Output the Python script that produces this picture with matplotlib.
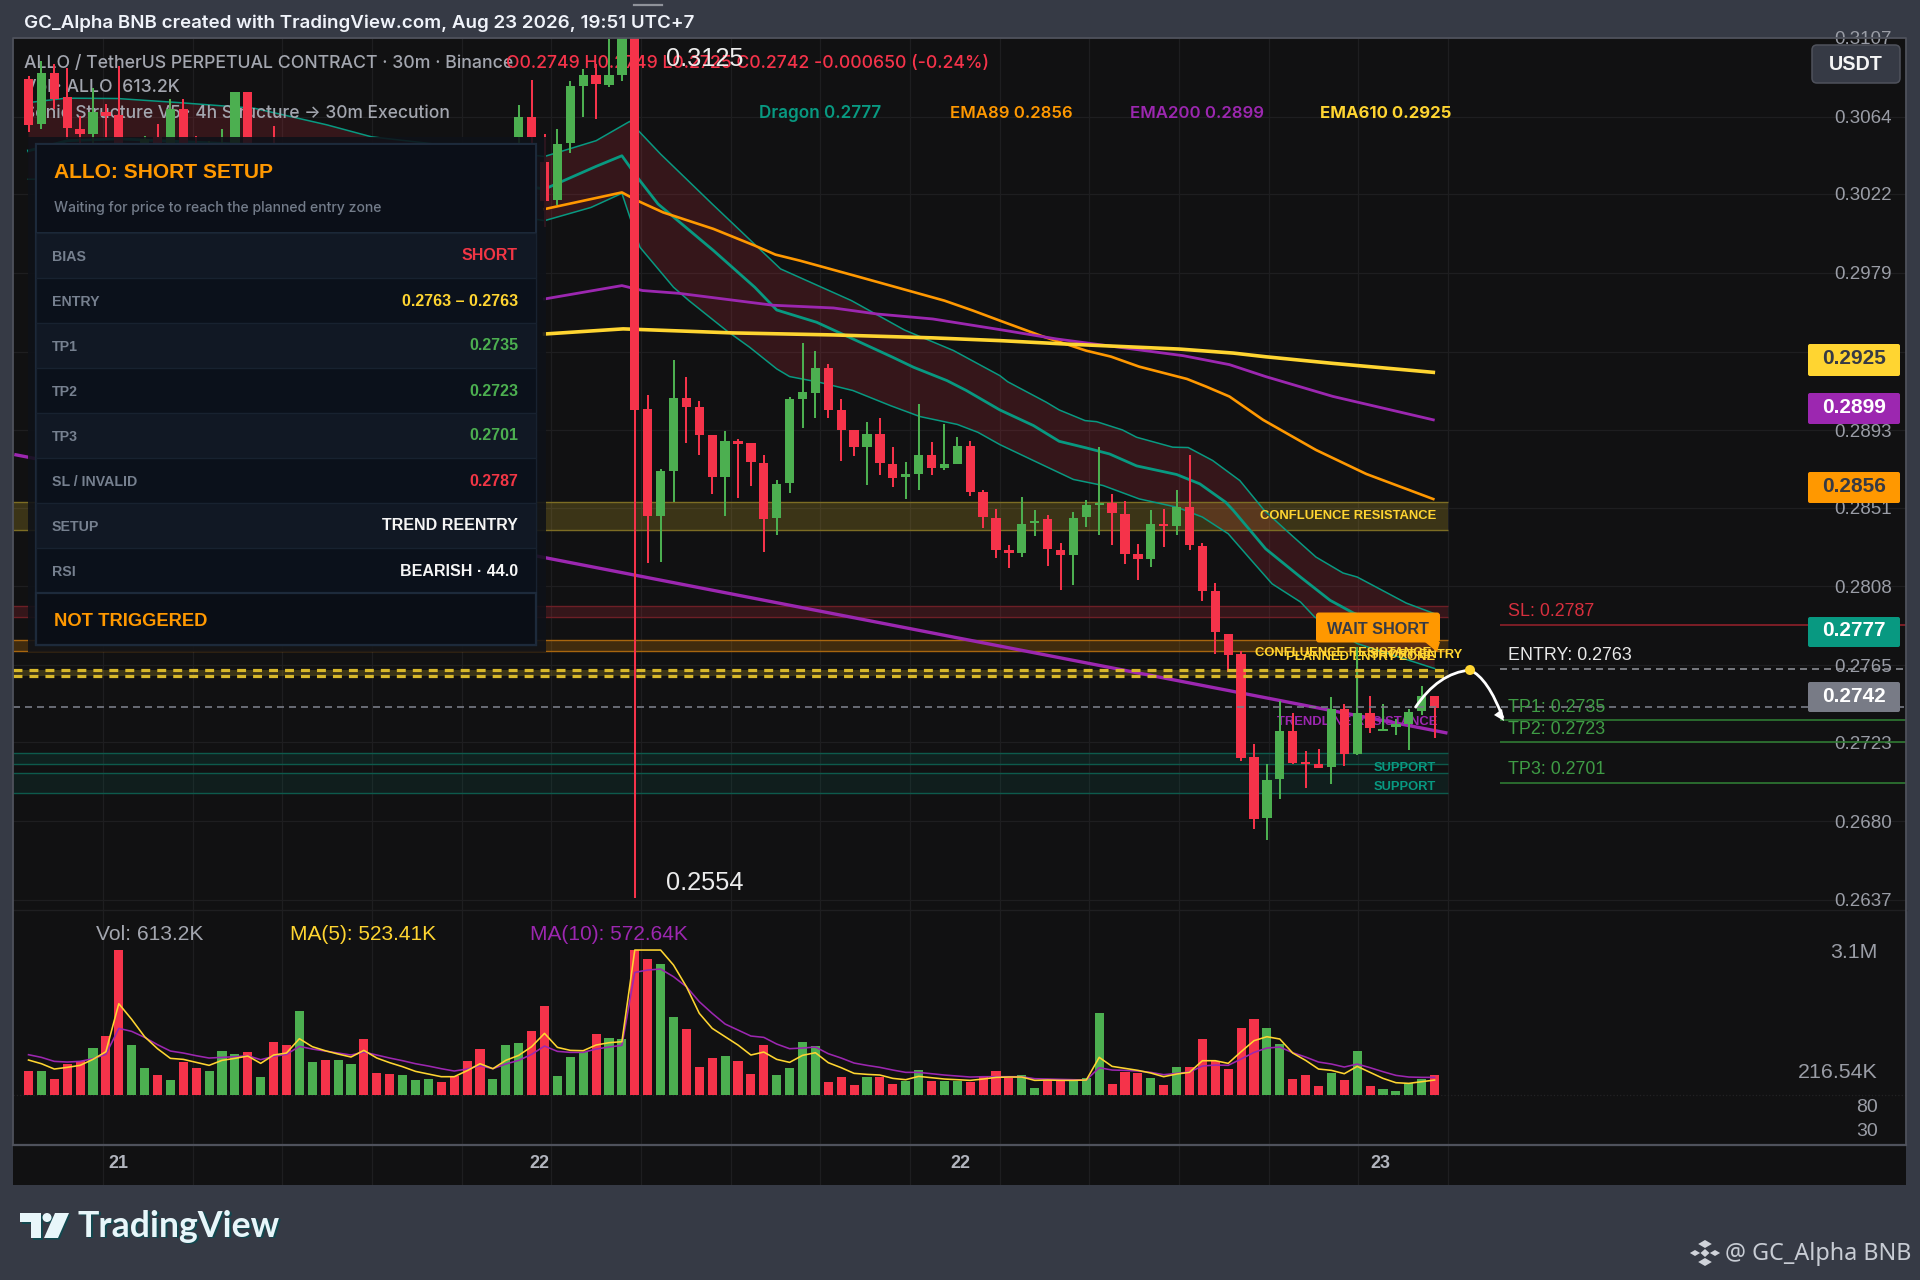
import numpy as np
import matplotlib
matplotlib.use('Agg')
import matplotlib.pyplot as plt
from matplotlib.patches import Rectangle, FancyBboxPatch, Polygon, Circle, PathPatch
from matplotlib.path import Path

W, H = 1920, 1280

# ---------------- data ----------------
candle_dirs = ("RGRRRGRRGG" "RGRRGGGRGR" "RGGRGGRRRG" "GGRRRRGGGR" "RGGGRGGRRG"
               "GRRRGRRRGG" "GGRRRGRRGG" "RGGRRRRGGR" "RGGGRRRGRG" "RRRRRRGGRR" "RGRGRGGGGR")
# high, top of body, bottom of body, low
candle_rows = [
 (.30864,.30845,.30597,.30555),(.30945,.30878,.30600,.30573),(.30927,.30878,.30736,.30682),(.30909,.30746,.30577,.30519),
 (.30646,.30573,.30546,.30491),(.30796,.30664,.30546,.30491),(.30709,.30664,.30646,.30524),(.30918,.30651,.30491,.30464),
 (.30490,.30480,.30350,.30300),(.30537,.30519,.30400,.30350),(.30600,.30531,.30480,.30420),(.30736,.30682,.30500,.30440),
 (.30736,.30682,.30500,.30450),(.30537,.30500,.30420,.30380),(.30510,.30490,.30400,.30360),(.30573,.30500,.30400,.30380),
 (.30773,.30773,.30480,.30440),(.30778,.30773,.30480,.30440),(.30480,.30470,.30400,.30370),(.30591,.30490,.30400,.30350),
 (.30480,.30450,.30380,.30340),(.30500,.30480,.30370,.30340),(.30490,.30470,.30410,.30380),(.30480,.30470,.30400,.30370),
 (.30470,.30450,.30390,.30360),(.30470,.30440,.30400,.30370),(.30480,.30440,.30350,.30310),(.30390,.30360,.30320,.30290),
 (.30360,.30330,.30290,.30260),(.30350,.30330,.30290,.30270),(.30360,.30340,.30320,.30300),(.30370,.30350,.30330,.30310),
 (.30360,.30350,.30330,.30300),(.30350,.30330,.30300,.30280),(.30340,.30300,.30260,.30230),(.30290,.30270,.30200,.30170),
 (.30260,.30240,.30200,.30190),(.30440,.30400,.30240,.30220),(.30706,.30637,.30528,.30470),(.30840,.30637,.30528,.30470),
 (.30546,.30395,.30183,.30041),(.30573,.30491,.30186,.30161),(.30836,.30809,.30495,.30441),(.30900,.30869,.30809,.30637),
 (.30927,.30869,.30818,.30631),(.31063,.30869,.30813,.30804),(.3112,.3110,.30869,.30836),(.3125,.3112,.29043,.2638),
 (.29124,.29046,.28462,.28208),(.28721,.28707,.28462,.28215),(.29315,.29106,.28709,.28540),(.29222,.29106,.29059,.28861),
 (.29092,.29057,.28903,.28796),(.28906,.28903,.28676,.28582),(.28925,.28874,.28676,.28463),(.28886,.28874,.28857,.28560),
 (.28861,.28861,.28756,.28629),(.28797,.28754,.28447,.28267),(.28658,.28638,.28453,.28362),(.29113,.29101,.28641,.28591),
 (.29406,.29142,.29101,.28945),(.29366,.29269,.29135,.28999),(.29293,.29269,.29044,.28999),(.29103,.29039,.28935,.28763),
 (.28935,.28934,.28839,.28790),(.28975,.28912,.28839,.28634),(.28999,.28912,.28752,.28687),(.28841,.28749,.28670,.28623),
 (.28758,.28694,.28674,.28558),(.29072,.28799,.28694,.28603),(.28865,.28799,.28723,.28685),(.28966,.28749,.28723,.28712),
 (.28892,.28847,.28749,.28749),(.28870,.28843,.28594,.28571),(.28607,.28594,.28456,.28400),(.28501,.28454,.28277,.28235),
 (.28303,.28281,.28261,.28178),(.28566,.28421,.28261,.28240),(.28499,.28439,.28425,.28352),(.28467,.28447,.28285,.28193),
 (.28316,.28276,.28249,.28058),(.28485,.28454,.28249,.28085),(.28552,.28525,.28456,.28403),(.28839,.28534,.28521,.28358),
 (.28581,.28536,.28478,.28307),(.28547,.28476,.28254,.28200),(.28312,.28254,.28227,.28113),(.28497,.28421,.28227,.28185),
 (.28503,.28421,.28407,.28294),(.28606,.28514,.28409,.28360),(.28799,.28514,.28303,.28276),(.28318,.28301,.28053,.28000),
 (.28100,.28056,.27831,.27713),(.27820,.27820,.27706,.27613),(.27728,.27710,.27142,.27127),(.27223,.27149,.26813,.26758),
 (.27114,.27025,.26817,.26695),(.27456,.27292,.27029,.26922),(.27392,.27290,.27118,.27109),(.27180,.27123,.27111,.26982),
 (.27191,.27109,.27092,.27087),(.27479,.27414,.27096,.27002),(.27437,.27412,.27165,.27103),(.27750,.27387,.27165,.27158),
 (.27485,.27387,.27310,.27281),(.27441,.27305,.27292,.27290),(.27359,.27328,.27314,.27267),(.27414,.27394,.27328,.27187),
 (.27535,.27481,.27399,.27377),(.27485,.27485,.27417,.27254),
]
volumes_k = [744,733,475,950,1033,1446,1828,4483,1529,816,609,465,1012,816,744,1343,1250,1333,547,1622,1529,2583,1012,1085,
 1064,950,1735,671,640,609,444,475,393,589,1043,1415,496,1529,1591,1963,2758,578,1178,1322,1880,1756,1725,4483,4204,4049,
 2397,2045,847,1136,1209,1043,640,1529,620,816,1642,1508,382,537,310,558,537,331,413,764,434,413,424,393,589,733,506,620,
 196,465,465,434,506,2531,341,713,682,527,310,868,857,1725,1054,806,2066,2345,2056,1570,486,599,279,682,465,1343,279,165,
 103,372,486,613]
ma5_read = [104,93,77,82,88,106,129,273,226,174,138,109,106,97,88,103,109,116,94,119,125,168,144,132,122,113,133,110,96,84,
 70,62,54,54,72,93,78,103,118,144,184,142,133,132,149,156,159,434,434,434,389,324,244,199,
 174,149,119,128,106,97,118,126,96,81,64,61,59,49,45,55,51,47,45,43,47,52,53,53,43,44,43,43,44,112,85,79,73,65,54,62,67,
 102,102,94,129,162,174,167,125,103,77,73,63,85,67,49,36,34,39,44]
ma10_read = [120,112,100,98,100,108,121,199,190,172,150,131,125,117,110,112,114,117,105,115,121,145,137,131,125,119,128,119,
 110,102,93,86,78,71,77,87,78,92,103,121,146,130,127,127,137,143,148,367,374,377,354,324,279,244,
 212,194,176,172,152,138,140,143,123,110,95,88,82,74,67,67,63,59,56,53,54,54,54,54,48,47,46,45,44,81,74,73,71,67,60,64,68,
 86,89,88,107,127,140,143,126,113,98,92,83,92,81,69,58,53,52,52]
READ_UNIT_K = 10.33

dragon_hi_x = [0,2.9,6.9,11.6,17.5,23.1,26.6,40,44,46.6,49,53,58.3,63.8,67.9,71.7,75.3,75.9,78.9,79.9,81.9,82.8,84.8,85.9,88.7,89.9,91.8,93.9,95.8,97.5,99.8,101.9,103,106.8,109]
dragon_hi_y = [.30718,.30742,.30740,.30718,.30687,.30597,.30531,.30424,.30510,.30615,.30437,.30165,.29811,.29638,.29478,.29366,.29229,.29196,.29084,.29042,.28984,.28978,.28933,.28893,.28839,.28837,.28766,.28657,.28494,.28385,.28240,.28153,.28131,.27989,.27931]
dragon_mid_x = [0,3,7,20,40,44,46,47.2,48.8,53.1,56.3,58,61.1,67,68.6,71.2,72.7,75.3,77.9,79.9,82,83.8,85.9,89,90.8,92.8,93.4,95.9,98.6,100.9,102.7,109]
dragon_mid_y = [.30455,.3051,.3052,.3048,.30246,.30370,.30428,.30310,.30165,.29911,.29711,.29587,.29520,.29329,.29275,.29202,.29148,.29042,.28957,.28871,.28835,.28802,.28737,.28690,.28639,.28539,.28494,.28285,.28131,.28004,.27935,.2777]
dragon_lo_x = [0,20,40,43.6,46,47.4,50,51.2,54.1,55.9,58,59,61.3,63.9,66.8,69.1,72,73.6,75.3,77.9,81,83.3,86.1,89,91,93,94.8,96.4,98.6,99.7,103,109]
dragon_lo_y = [.3030,.3030,.30074,.30146,.30223,.29929,.29711,.29638,.29475,.29384,.29266,.29224,.29193,.29148,.29066,.29006,.28963,.28920,.28853,.28766,.28663,.28630,.28557,.28512,.28458,.28367,.28222,.28094,.27995,.27913,.27768,.27632]
ema89_x = [40,46,47.2,49.2,53.1,56.3,57.9,59.8,64.2,71,73.2,75.3,78.7,82,83.9,86.1,89.8,91.3,93.1,95.7,99.8,103.7,108.9]
ema89_y = [.30137,.30228,.30183,.30119,.30029,.29938,.29889,.29856,.29771,.29638,.29584,.29529,.29441,.29365,.29333,.29278,.29211,.29169,.29115,.28988,.28824,.28693,.28556]
ema200_x = [40,46,47.6,50.4,57.7,62.4,65.8,70.1,75.3,79.7,85.6,89.5,93.1,95.9,101.1,108.9]
ema200_y = [.29647,.29720,.29693,.29678,.29613,.29598,.29565,.29538,.29480,.29429,.29374,.29338,.29289,.29224,.29116,.28988]
ema610_x = [40,46.1,54.6,62.4,70.1,75.3,80.5,89.2,93.4,95.9,101.1,108.9]
ema610_y = [.29456,.29484,.29462,.29451,.29435,.29420,.29401,.29374,.29352,.29332,.29296,.29247]
trend_x = [-1.1,110]
trend_y = [.28799,.27280]

zone_left, zone_right = -1.2, 110
zones = [  # low, high, fill, alpha, edge
 (.28389,.28541,'#ffd531',.18,'#7d6d24'),
 (.27913,.27973,'#f23645',.16,'#6d1f26'),
 (.27726,.27786,'#ff9800',.20,'#a8660f'),
 (.27109,.27169,'#089981',.12,'#0d5a4c'),
 (.26951,.27065,'#089981',.10,'#0d5a4c'),
]
entry_zone = (.27590,.27626)
price_ticks = [.3107,.3064,.3022,.2979,.2936,.2893,.2851,.2808,.2765,.2723,.2680,.2637]
price_tick_labels = ['0.3107','0.3064','0.3022','0.2979','','0.2893','0.2851','0.2808','0.2765','0.2723','0.2680','0.2637']
grid_bars = [5.78,12.73,19.68,26.63,33.58,40.53,47.48,54.43,61.38,68.33,75.28,82.23,89.18,96.13,103.08,110.03]
date_pos = [7.0,39.6,72.2,104.8]
date_labels = ['21','22','22','23']
sl_level, entry_level, tp1, tp2, tp3, last_close = .2787,.2763,.2735,.2723,.2701,.2742
plan_rows = [('BIAS','SHORT','#f23645'),('ENTRY','0.2763 – 0.2763','#ffd531'),('TP1','0.2735','#4caf50'),
             ('TP2','0.2723','#4caf50'),('TP3','0.2701','#4caf50'),('SL / INVALID','0.2787','#f23645'),
             ('SETUP','TREND REENTRY','#f5f5f5'),('RSI','BEARISH · 44.0','#f5f5f5')]
price_tags = [('0.2925',344,376,'#ffd531','#363a45'),('0.2899',393,424,'#9c27b0','#ffffff'),('0.2856',472,503,'#ff9800','#363a45'),
              ('0.2777',617,647,'#089981','#ffffff'),('0.2742',682,712,'#787b86','#ffffff')]

# ---------------- style ----------------
BG, PANE = '#363a45', '#111112'
GREEN, RED = '#4caf50', '#f5334a'
TEAL, ORANGE, PURPLE, YELLOW = '#089981', '#ff9800', '#9c27b0', '#ffd531'
GRID, BORDER = '#1e1e20', '#4f525c'
SANS = 'Liberation Sans'
UI = 'Inter'
BAR_PX, BAR0_PX = 12.9, 28.5
XL, XR, YT, YM, YV, YB = 13, 1906, 38, 911, 1145, 1185
px2bar = lambda px: (px - BAR0_PX) / BAR_PX

plt.rcParams['font.family'] = [SANS, 'DejaVu Sans']
fig = plt.figure(figsize=(W/100, H/100), dpi=100, facecolor=BG)

def axes_px(x0, y0, x1, y1, z):
    a = fig.add_axes([x0/W, 1-y1/H, (x1-x0)/W, (y1-y0)/H], zorder=z)
    a.set_facecolor(PANE)
    for s in a.spines.values():
        s.set_visible(False)
    a.set_xlim(px2bar(XL), px2bar(XR))
    a.set_xticks(grid_bars)
    a.tick_params(axis='both', length=0, labelbottom=False, labelleft=False)
    a.grid(True, axis='x', color=GRID, lw=0.9, zorder=0)
    a.set_axisbelow(True)
    return a

ax = axes_px(XL, YT, XR, YM, 1)
av = axes_px(XL, YM, XR, YV, 1)
at = axes_px(XL, YV, XR, YB, 1)
ov = fig.add_axes([0, 0, 1, 1], zorder=5)
ov.set_xlim(0, W); ov.set_ylim(H, 0); ov.axis('off'); ov.patch.set_alpha(0)

# ---------------- price pane ----------------
ax.set_ylim(.2631, .3107)
ax.yaxis.tick_right()
ax.set_yticks(price_ticks)
ax.set_yticklabels(price_tick_labels)
ax.tick_params(axis='y', pad=-10, labelsize=13.5, labelcolor='#9a9da6', labelright=True)
for t in ax.get_yticklabels():
    t.set_ha('right')
    t.set_clip_on(False)
ax.grid(True, axis='y', color=GRID, lw=0.9, zorder=0)

ax.fill(list(dragon_hi_x) + dragon_lo_x[::-1], list(dragon_hi_y) + dragon_lo_y[::-1], color=RED, alpha=.16, lw=0, zorder=2)

for lo, hi, fc, alpha, ec in zones:
    ax.add_patch(Rectangle((zone_left, lo), zone_right-zone_left, hi-lo, fc=fc, alpha=alpha, lw=0, zorder=2.5))
    ax.hlines([lo, hi], zone_left, zone_right, colors=ec, lw=1.0, zorder=2.6)
ax.add_patch(Rectangle((zone_left, entry_zone[0]), zone_right-zone_left, entry_zone[1]-entry_zone[0], fc=YELLOW, alpha=.18, lw=0, zorder=2.5))
ax.hlines(entry_zone, zone_left, zone_right, colors='#d8b82b', lw=2.3, linestyles=[(0, (2.8, 2.2))], capstyle='butt', zorder=5.5)

ax.plot(trend_x, trend_y, color=PURPLE, lw=2.4, zorder=3, solid_capstyle='butt')
ax.plot(dragon_hi_x, dragon_hi_y, color=TEAL, lw=1.1, zorder=3)
ax.plot(dragon_lo_x, dragon_lo_y, color=TEAL, lw=1.1, zorder=3)
ax.plot(dragon_mid_x, dragon_mid_y, color=TEAL, lw=2.0, zorder=3)
ax.plot(ema89_x, ema89_y, color=ORANGE, lw=1.9, zorder=3)
ax.plot(ema200_x, ema200_y, color=PURPLE, lw=2.0, zorder=3)
ax.plot(ema610_x, ema610_y, color=YELLOW, lw=2.6, zorder=3)

# labels that sit under the candles
def under(x, y, s, **kw):
    kw.setdefault('va', 'center')
    ax.text(x, y, s, transform=ov.transData, clip_on=False, zorder=3.5, **kw)

under(24, 63.5, 'ALLO / TetherUS PERPETUAL CONTRACT · 30m · Binance', color='#a3a6af', fontsize=12.75, family=UI, weight=500)
under(24, 87.5, 'Vol · ALLO  613.2K', color='#a3a6af', fontsize=12.75, family=UI, weight=500)
under(24, 113, 'Sonic Structure V5 · 4h Structure → 30m Execution', color='#a3a6af', fontsize=12.5, family=[UI, 'DejaVu Sans'], weight=500)
under(506, 63.5, 'O0.2749 H0.2749 L0.2725 C0.2742 -0.000650 (-0.24%)', color=RED, fontsize=12.7, family=UI, weight=500)
under(759, 113.5, 'Dragon 0.2777', color=TEAL, fontsize=12.3, family=UI, weight=600)
under(950, 113.5, 'EMA89 0.2856', color=ORANGE, fontsize=12.1, family=UI, weight=600)
under(1130, 113.5, 'EMA200 0.2899', color=PURPLE, fontsize=12.1, family=UI, weight=600)
under(1320, 113.5, 'EMA610 0.2925', color=YELLOW, fontsize=12.1, family=UI, weight=700)
under(1436, 516, 'CONFLUENCE RESISTANCE', color=YELLOW, fontsize=9.35, weight='bold', ha='right')
under(1431, 653, 'CONFLUENCE RESISTANCE', color=YELLOW, fontsize=9.35, weight='bold', ha='right')
under(1435, 657, 'PLANNED ENTRY ZONE', color=YELLOW, fontsize=9.35, weight='bold', ha='right')
under(1462, 655, 'SHORT ENTRY', color=YELLOW, fontsize=9.35, weight='bold', ha='right')
under(1437, 722, 'TRENDLINE RESISTANCE', color=PURPLE, fontsize=9.4, weight='bold', ha='right')
under(1436, 768, 'SUPPORT', color=TEAL, fontsize=9.3, weight='bold', ha='right')
under(1436, 787, 'SUPPORT', color=TEAL, fontsize=9.3, weight='bold', ha='right')

# candles
xs = np.arange(len(candle_rows))
rows = np.array(candle_rows)
cols = [GREEN if d == 'G' else RED for d in candle_dirs]
ax.vlines(xs, rows[:, 3], rows[:, 0], colors=cols, lw=1.45, zorder=4)
ax.bar(xs, rows[:, 1]-rows[:, 2], bottom=rows[:, 2], width=0.72, color=cols, lw=0, zorder=4.1)

# levels
ax.axhline(last_close, color='#787b86', lw=1.2, ls=(0, (4.2, 3)), zorder=5)
right_start = px2bar(1500)
right_end = px2bar(XR)
ax.hlines(sl_level, right_start, right_end, colors='#8f2029', lw=1.2, zorder=3)
ax.hlines(entry_level, right_start, right_end, colors='#8a8c93', lw=1.2, linestyles=[(0, (4.2, 3))], zorder=3)
ax.hlines([tp1, tp2, tp3], right_start, right_end, colors='#2f7a33', lw=1.2, zorder=3)

ax.text(666, 59, '0.3125', transform=ov.transData, color='#ececec', fontsize=18.3, va='center', zorder=6)
ax.text(666, 883, '0.2554', transform=ov.transData, color='#ececec', fontsize=18.3, va='center', zorder=6)

# ---------------- volume pane ----------------
vol_px_k = READ_UNIT_K * 3
av.set_ylim(-(YV-1094.7)*vol_px_k, (1094.7-YM)*vol_px_k)
av.bar(xs, volumes_k, width=0.71, color=cols, lw=0, zorder=2)
av.plot(xs, np.array(ma10_read)*READ_UNIT_K, color=PURPLE, lw=1.15, zorder=3)
av.plot(xs, np.array(ma5_read)*READ_UNIT_K, color=YELLOW, lw=1.15, zorder=3.1)
av.set_yticks([0])
av.grid(True, axis='y', color='#232325', lw=0.9, ls=':')

# ---------------- time strip ----------------
at.set_ylim(0, 1)
at.set_yticks([])
for p, lab in zip(date_pos, date_labels):
    at.text(p, 0.53, lab, color='#b2b5be', fontsize=13, weight='bold', ha='center', va='center')

# ---------------- overlay ----------------
def T(x, y, s, **kw):
    kw.setdefault('va', 'center')
    ov.text(x, y, s, **kw)

def R(x0, y0, x1, y1, fc, ec='none', lw=0, alpha=None, z=1):
    ov.add_patch(Rectangle((x0, y0), x1-x0, y1-y0, fc=fc, ec=ec, lw=lw, alpha=alpha, zorder=z))

# pane frame
ov.plot([XL, XL, XR, XR], [YV, YT, YT, YV], color=BORDER, lw=1.3, zorder=6)
ov.plot([XL, XR], [YV, YV], color=BORDER, lw=1.6, zorder=6)
ov.plot([XL, XR], [YM-1, YM-1], color='#1f1f21', lw=1.0, zorder=0.5)
ov.plot([634, 662], [5, 5], color='#8f929a', lw=1.6)

T(24, 23, 'GC_Alpha BNB created with TradingView.com, Aug 23 2026, 19:51 UTC+7', color='#f0f3fa', fontsize=13.5, family=UI, weight=600)

# setup panel
R(28, 137, 546, 652, '#0e1118', alpha=.88, z=1)
R(36, 144, 536, 645, '#0b111b', ec='#1d2a3b', lw=1.6, z=2)
R(36, 144, 536, 232.5, '#0b0f18', ec='#1d2a3b', lw=1.4, z=2.2)
row_h = 45.0
for i, (lab, val, c) in enumerate(plan_rows):
    y0 = 232.5 + i*row_h
    R(36, y0, 536, y0+row_h, '#111824' if i % 2 == 0 else '#0b111b', ec='#182230', lw=0.9, z=2.3)
    T(52, y0+row_h/2+2, lab, color='#76808f', fontsize=10.2, weight='bold', zorder=3)
    T(518, y0+row_h/2+1, val, color=c, fontsize=11.5, weight='bold', ha='right', zorder=3)
R(36, 592.5, 536, 645, '#0a0e16', ec='#1d2a3b', lw=1.6, z=2.4)
T(54, 172, 'ALLO: SHORT SETUP', color=ORANGE, fontsize=15.1, weight='bold', zorder=3)
T(54, 208, 'Waiting for price to reach the planned entry zone', color='#737c8a', fontsize=10.1, family=UI, weight=500, zorder=3)
T(54, 621, 'NOT TRIGGERED', color=ORANGE, fontsize=13.2, weight='bold', zorder=3)

# right-hand labels
T(1508, 611, 'SL: 0.2787', color='#d72f3e', fontsize=12.9)
T(1508, 656, 'ENTRY: 0.2763', color='#e9e9e9', fontsize=12.9)
T(1508, 707, 'TP1: 0.2735', color='#3f9c45', fontsize=12.9)
T(1508, 729.5, 'TP2: 0.2723', color='#3f9c45', fontsize=12.9)
T(1508, 770, 'TP3: 0.2701', color='#3f9c45', fontsize=12.9)

# wait-short badge
ov.add_patch(FancyBboxPatch((1318, 614.5), 120, 26, boxstyle='round,pad=2,rounding_size=3', fc=ORANGE, ec='none', zorder=8))
ov.add_patch(Polygon([(1425, 642), (1440, 642), (1437, 652)], fc=ORANGE, ec='none', zorder=8))
T(1378, 629, 'WAIT SHORT', color='#363a45', fontsize=11.7, weight='bold', ha='center', zorder=9)

# projection arrow
ov.add_patch(PathPatch(Path([(1415, 708), (1438, 673), (1470, 670)], [Path.MOVETO, Path.CURVE3, Path.CURVE3]), fc='none', ec='white', lw=2.0, zorder=8))
ov.add_patch(PathPatch(Path([(1470, 670), (1488, 678), (1503, 718)], [Path.MOVETO, Path.CURVE3, Path.CURVE3]), fc='none', ec='white', lw=2.0, zorder=8))
ov.add_patch(Polygon([(1494, 715), (1504, 721), (1502, 709)], fc='white', ec='none', zorder=8))
ov.add_patch(Circle((1470, 670), 5, fc=YELLOW, ec='none', zorder=9))

# price tags and unit button
for s, y0, y1, fc, tc in price_tags:
    ov.add_patch(FancyBboxPatch((1809, y0+1), 90, y1-y0-2, boxstyle='round,pad=1,rounding_size=2', fc=fc, ec='none', zorder=7))
    T(1854, (y0+y1)/2-1, s, color=tc, fontsize=15, weight='bold', ha='center', zorder=8)
ov.add_patch(FancyBboxPatch((1814, 47), 84, 34, boxstyle='round,pad=2,rounding_size=5', fc=BG, ec='#4f525c', lw=1.1, zorder=7))
T(1856, 65, 'USDT', color='#f5f5f5', fontsize=14.2, weight='bold', ha='center', zorder=8)

# volume legend and scale
T(96, 935, 'Vol: 613.2K', color='#a3a6af', fontsize=15.1, zorder=6)
T(290, 935, 'MA(5): 523.41K', color=YELLOW, fontsize=15, zorder=6)
T(530, 935, 'MA(10): 572.64K', color=PURPLE, fontsize=15, zorder=6)
T(1878, 953, '3.1M', color='#9a9da6', fontsize=15.4, ha='right', zorder=6)
T(1878, 1072, '216.54K', color='#9a9da6', fontsize=15.4, ha='right', zorder=6)
T(1878, 1107.5, '80', color='#9a9da6', fontsize=14, ha='right', zorder=6)
T(1878, 1132, '30', color='#9a9da6', fontsize=14, ha='right', zorder=6)

# TradingView mark
shadow = '#12484f'
logo_fg = '#e8f6fa'
for off, c in ((1.5, shadow), (0, logo_fg)):
    ov.add_patch(Polygon([(20+off, 1213+off), (41+off, 1213+off), (41+off, 1238+off), (31+off, 1238+off), (31+off, 1222+off), (20+off, 1222+off)], fc=c, ec='none'))
    ov.add_patch(Circle((47+off, 1217.5+off), 4.5, fc=c, ec='none'))
    ov.add_patch(Polygon([(55+off, 1213+off), (69+off, 1213+off), (58+off, 1238+off), (44+off, 1238+off)], fc=c, ec='none'))
T(79.5, 1228, 'TradingView', color=shadow, fontsize=25.7, family='Lato', weight='bold')
T(78, 1226.5, 'TradingView', color=logo_fg, fontsize=25.7, family='Lato', weight='bold')

# Binance mark and author
cx, cy = 1705, 1253
for dx, dy, r in ((0, -9, 4), (0, 9, 4), (-10, 0, 3), (10, 0, 3)):
    ov.add_patch(Polygon([(cx+dx-r*1.7, cy+dy), (cx+dx, cy+dy-r), (cx+dx+r*1.7, cy+dy), (cx+dx, cy+dy+r)], fc='#d0d3da', ec='none'))
ov.add_patch(Polygon([(cx-4.5, cy), (cx, cy-4), (cx+4.5, cy), (cx, cy+4)], fc='#d0d3da', ec='none'))
T(1725, 1254, '@ GC_Alpha BNB', color='#c8ccd4', fontsize=16.8, family='Noto Sans')

fig.savefig('out.png', dpi=100, facecolor=BG)
